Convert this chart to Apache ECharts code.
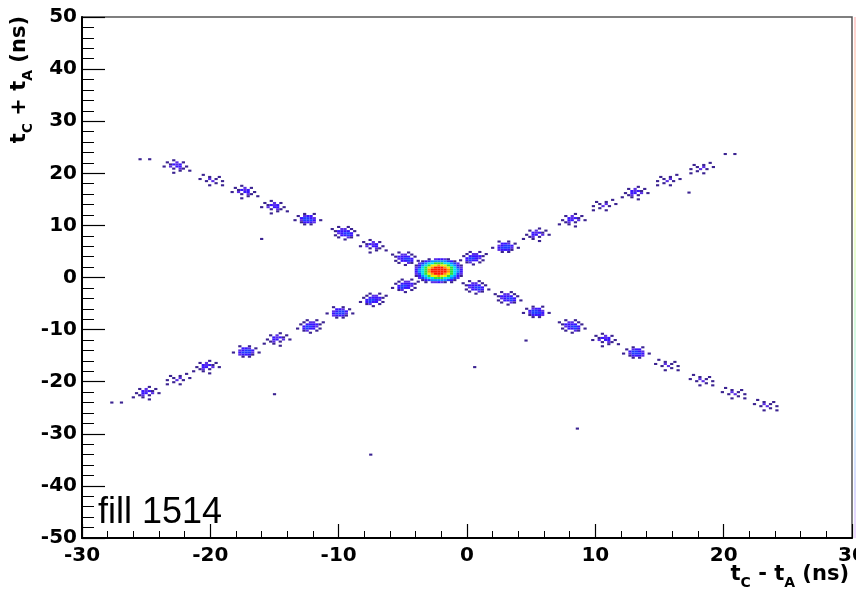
<!DOCTYPE html>
<html><head><meta charset="utf-8">
<script src="https://cdn.jsdelivr.net/npm/echarts@6/dist/echarts.min.js"></script>
<style>html,body{margin:0;padding:0;background:#fff}#c{width:856px;height:593px}</style>
</head><body><div id="c"></div>
<script>
// ---- axes ----
const X_MIN = -30, X_MAX = 30, X_STEP = 10;
const Y_MIN = -50, Y_MAX = 50, Y_STEP = 10;
const BIN_W = 0.25, BIN_H = 0.4;   // histogram bin size (ns)

// ---- descending band : satellite clusters ----
const DESC_X = [-25.1, -22.6, -19.8, -17.3, -15.0, -12.4, -9.5, -7.3, -4.8, 0.7, 3.2, 5.4, 8.2, 10.8, 13.2, 15.7, 18.4, 20.9, 23.4];
const DESC_Y = [22.7, 21.3, 18.7, 16.4, 13.5, 11.2, 8.5, 6.0, 3.6, -1.9, -4.0, -6.6, -9.4, -12.0, -14.4, -16.8, -19.7, -22.2, -24.5];
const DESC_SHAPE = ['P', 'B', 'C', 'B', 'B', 'E', 'A', 'B', 'A', 'A', 'A', 'E', 'A', 'B', 'E', 'C', 'C', 'C', 'C'];

// ---- ascending band ----
const ASC_X = [-27.3, -25.0, -22.6, -20.3, -17.2, -14.8, -12.2, -9.9, -7.3, -4.8, 0.5, 3.0, 5.4, 8.2, 10.6, 13.1, 15.6, 18.2, 20.5];
const ASC_Y = [-24.0, -22.2, -19.5, -17.2, -14.2, -11.9, -9.4, -6.7, -4.3, -1.6, 3.7, 5.9, 8.2, 11.0, 13.9, 16.2, 18.7, 21.0, 23.7];
const ASC_SHAPE = ['P', 'B', 'C', 'B', 'E', 'B', 'A', 'E', 'A', 'A', 'A', 'E', 'B', 'B', 'C', 'B', 'C', 'C', 'P'];

// ---- cluster cell patterns (count level per bin, '.' = empty) ----
const PATTERN_A = [
  "..1..1...",
  "1..22.1..",
  ".13333.1.",
  "..23443..",
  ".1.3343.1",
  "..1..21..",
  "....1...."
];
const PATTERN_B = [
  "...1.....",
  ".1..2.1..",
  "..1323...",
  "1.2.33.1.",
  "...1.21..",
  ".....1..1",
  "...1....."
];
const PATTERN_C = [
  ".1.......",
  "...1..1..",
  "1..2.1...",
  "..1.2..1.",
  ".....1...",
  "...1...1."
];
const PATTERN_E = [
  "...1..1..",
  ".1.233...",
  "..34432..",
  "1.24443.1",
  "..13332..",
  "...1.1..."
];
const PATTERN_P = ["1..1"];

// ---- main collision peak ----
const BLOB_X = -2.2, BLOB_Y = 1.3;
const BLOB_ROWS = [
  "....1.23321....",
  "..13455555431..",
  ".2456677766542.",
  "135678898876531",
  "246789aaa987642",
  "35679aaaaa97653",
  "35679aaaaa97653",
  "246789aaa987642",
  "135678898876531",
  ".2456677766542.",
  "..13455555431..",
  "...1.22321.1..."
];

// ---- isolated single counts ----
const STRAY_X = [-16.0, -15.0, 4.6, 0.6, 8.6, 17.3, -7.5];
const STRAY_Y = [7.4, -22.4, -12.1, -17.2, -29.0, 16.3, -34.0];

// ---- colour per count level ----
const LEVEL_COLORS = ['#3b2391', '#5b2ee6', '#3a14ff', '#1f3cff', '#0a8cff', '#00dcf0', '#2ee03a', '#eef000', '#ff9000', '#ff1a00'];

const PATTERNS = { A: PATTERN_A, B: PATTERN_B, C: PATTERN_C, E: PATTERN_E, P: PATTERN_P };

function stamp(cells, cx, cy, rows, mirror) {
  const nr = rows.length;
  rows.forEach(function (row, r) {
    const s = mirror ? row.split('').reverse().join('') : row;
    const nc = s.length;
    for (let c = 0; c < nc; c++) {
      const ch = s[c];
      if (ch === '.') continue;
      const lv = ch === 'a' ? 10 : parseInt(ch, 10);
      cells.push([cx + (c - (nc - 1) / 2) * BIN_W, cy + ((nr - 1) / 2 - r) * BIN_H, lv]);
    }
  });
}

const cells = [];
DESC_X.forEach(function (x, i) { stamp(cells, x, DESC_Y[i], PATTERNS[DESC_SHAPE[i]], false); });
ASC_X.forEach(function (x, i) { stamp(cells, x, ASC_Y[i], PATTERNS[ASC_SHAPE[i]], true); });
STRAY_X.forEach(function (x, i) { cells.push([x, STRAY_Y[i], 1]); });
stamp(cells, BLOB_X, BLOB_Y, BLOB_ROWS, false);

function renderItem(params, api) {
  const x = api.value(0), y = api.value(1);
  const p0 = api.coord([x - BIN_W / 2, y + BIN_H / 2]);
  const p1 = api.coord([x + BIN_W / 2, y - BIN_H / 2]);
  return {
    type: 'rect',
    shape: { x: p0[0], y: p0[1], width: p1[0] - p0[0], height: p1[1] - p0[1] },
    style: { fill: api.visual('color') }
  };
}

const labelFont = { fontFamily: 'DejaVu Sans', fontWeight: 'bold', fontSize: 20, color: '#000' };
const chart = echarts.init(document.getElementById('c'), null, { renderer: 'canvas' });

chart.setOption({
  animation: false,
  backgroundColor: '#fff',
  grid: { left: 82, right: 4, top: 17, bottom: 55, show: true, borderColor: '#555', borderWidth: 1.5, containLabel: false, outerBoundsMode: 'none' },
  xAxis: {
    type: 'value', min: X_MIN, max: X_MAX, interval: X_STEP,
    axisLine: { show: true, onZero: false, lineStyle: { color: '#000', width: 2 } },
    axisTick: { show: true, inside: true, length: 14, lineStyle: { color: '#000', width: 1.2 } },
    minorTick: { show: true, splitNumber: 5, length: 7, lineStyle: { color: '#000', width: 1 } },
    splitLine: { show: false }, minorSplitLine: { show: false },
    axisLabel: Object.assign({ margin: 8 }, labelFont)
  },
  yAxis: {
    type: 'value', min: Y_MIN, max: Y_MAX, interval: Y_STEP,
    axisLine: { show: true, onZero: false, lineStyle: { color: '#000', width: 2 } },
    axisTick: { show: true, inside: true, length: 23, lineStyle: { color: '#000', width: 1.2 } },
    minorTick: { show: true, splitNumber: 5, length: 12, lineStyle: { color: '#000', width: 1 } },
    splitLine: { show: false }, minorSplitLine: { show: false },
    axisLabel: Object.assign({ margin: 5 }, labelFont)
  },
  visualMap: {
    type: 'piecewise', show: false, dimension: 2, seriesIndex: 0,
    pieces: LEVEL_COLORS.map(function (c, i) { return { value: i + 1, color: c }; })
  },
  series: [{
    type: 'custom',
    renderItem: renderItem,
    dimensions: ['x', 'y', 'count'],
    encode: { x: 0, y: 1 },
    data: cells,
    clip: true
  }],
  graphic: [
    {
      type: 'rect', left: 854, top: 17, z: 10,
      shape: { width: 2, height: 521 },
      style: {
        opacity: 0.45,
        fill: new echarts.graphic.LinearGradient(0, 0, 0, 1, [
          { offset: 0, color: '#ff9a9a' }, { offset: 0.2, color: '#ffd28a' },
          { offset: 0.35, color: '#f4ff8a' }, { offset: 0.55, color: '#a8f5a8' },
          { offset: 0.75, color: '#9aeeff' }, { offset: 0.9, color: '#a8b0ff' },
          { offset: 1, color: '#d8a8ff' }
        ])
      }
    },
    {
      type: 'text', z: 10, x: 98, y: 513,
      style: { text: 'fill 1514', fontFamily: 'Liberation Sans', fontSize: 36, fill: '#000', verticalAlign: 'middle', align: 'left' }
    },
    {
      type: 'text', z: 10, x: 849, y: 564,
      style: {
        text: '{m|t}{s|C}{m| - t}{s|A}{m| (ns)}',
        align: 'right', verticalAlign: 'top',
        rich: {
          m: { fontFamily: 'DejaVu Sans', fontWeight: 'bold', fontSize: 21, lineHeight: 21, verticalAlign: 'top', fill: '#000' },
          s: { fontFamily: 'DejaVu Sans', fontWeight: 'bold', fontSize: 14, lineHeight: 26, verticalAlign: 'bottom', fill: '#000' }
        }
      }
    },
    {
      type: 'text', z: 10, x: 9, y: 16, rotation: Math.PI / 2,
      style: {
        text: '{m|t}{s|C}{m| + t}{s|A}{m| (ns)}',
        align: 'right', verticalAlign: 'top',
        rich: {
          m: { fontFamily: 'DejaVu Sans', fontWeight: 'bold', fontSize: 21, lineHeight: 21, verticalAlign: 'top', fill: '#000' },
          s: { fontFamily: 'DejaVu Sans', fontWeight: 'bold', fontSize: 14, lineHeight: 26, verticalAlign: 'bottom', fill: '#000' }
        }
      }
    }
  ]
});
</script></body></html>
